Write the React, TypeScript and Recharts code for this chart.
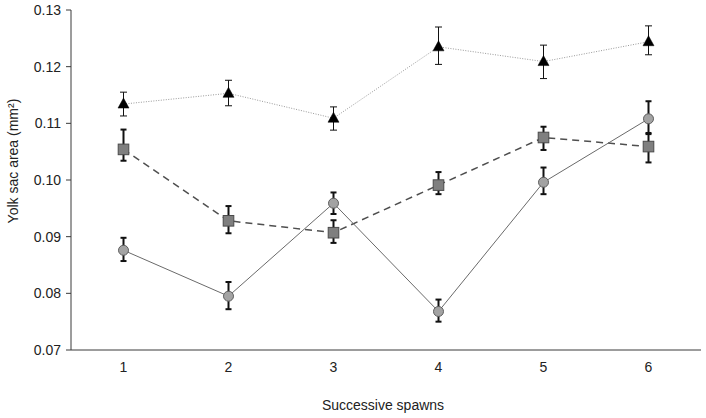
import React from "react";
import { LineChart, Line, XAxis, YAxis, ErrorBar, Label } from "recharts";

const spawns = [1, 2, 3, 4, 5, 6];
const yTicks = [0.07, 0.08, 0.09, 0.1, 0.11, 0.12, 0.13];
const boundaryTicks = [0.5, 1.5, 2.5, 3.5, 4.5, 5.5, 6.5];

const triangleMean = [0.1134, 0.1153, 0.1109, 0.1235, 0.1209, 0.1244];
const triangleLow = [0.0021, 0.0022, 0.0021, 0.0031, 0.003, 0.0023];
const triangleHigh = [0.0021, 0.0023, 0.002, 0.0035, 0.0029, 0.0028];

const squareMean = [0.1054, 0.0928, 0.0907, 0.0991, 0.1075, 0.1059];
const squareLow = [0.002, 0.0022, 0.0018, 0.0016, 0.0022, 0.0028];
const squareHigh = [0.0035, 0.0026, 0.0022, 0.0023, 0.0019, 0.0022];

const circleMean = [0.0876, 0.0795, 0.0959, 0.0768, 0.0996, 0.1108];
const circleLow = [0.0019, 0.0023, 0.0019, 0.0018, 0.0021, 0.0025];
const circleHigh = [0.0022, 0.0025, 0.0019, 0.0021, 0.0026, 0.0031];

const data = spawns.map((s, i) => ({
  x: s,
  tri: triangleMean[i],
  triErr: [triangleLow[i], triangleHigh[i]],
  sq: squareMean[i],
  sqErr: [squareLow[i], squareHigh[i]],
  circ: circleMean[i],
  circErr: [circleLow[i], circleHigh[i]],
}));

const FONT = "'Liberation Sans', Arial, sans-serif";

const TriangleDot = (props: any) => {
  const { cx, cy, index } = props;
  if (cx == null || cy == null) return <g key={`t${index}`} />;
  return (
    <path
      key={`t${index}`}
      d={`M${cx},${cy - 6} L${cx + 5.5},${cy + 4} L${cx - 5.5},${cy + 4} Z`}
      fill="#000"
      stroke="#000"
      strokeWidth={0.5}
    />
  );
};

const SquareDot = (props: any) => {
  const { cx, cy, index } = props;
  if (cx == null || cy == null) return <g key={`s${index}`} />;
  return (
    <rect
      key={`s${index}`}
      x={cx - 5.3}
      y={cy - 5.3}
      width={10.6}
      height={10.6}
      fill="#7f7f7f"
      stroke="#4a4a4a"
      strokeWidth={1}
    />
  );
};

const CircleDot = (props: any) => {
  const { cx, cy, index } = props;
  if (cx == null || cy == null) return <g key={`c${index}`} />;
  return (
    <circle
      key={`c${index}`}
      cx={cx}
      cy={cy}
      r={5}
      fill="#a3a3a3"
      stroke="#5e5e5e"
      strokeWidth={1}
    />
  );
};

export default function App() {
  return (
    <div style={{ position: "absolute", left: 0, top: 0 }}>
      <LineChart
        width={706}
        height={418}
        data={data}
        margin={{ top: 10, right: 5, bottom: 8, left: 10 }}
        style={{ fontFamily: FONT }}
      >
        <XAxis
          xAxisId="b"
          dataKey="x"
          type="number"
          domain={[0.5, 6.5]}
          ticks={spawns}
          axisLine={false}
          tickLine={false}
          tickSize={3}
          tickMargin={4}
          height={55}
          tick={{ fill: "#222", fontSize: 14, fontFamily: FONT }}
        >
          <Label
            content={(p: any) => {
              const vb = p.viewBox || {};
              return (
                <text
                  x={vb.x + vb.width / 2 - 3}
                  y={vb.y + vb.height}
                  textAnchor="middle"
                  fill="#222"
                  fontSize={14}
                  fontFamily={FONT}
                >
                  Successive spawns
                </text>
              );
            }}
          />
        </XAxis>
        <XAxis
          xAxisId="a"
          dataKey="x"
          type="number"
          domain={[0.5, 6.5]}
          ticks={boundaryTicks}
          tick={false}
          tickSize={5}
          height={5}
          axisLine={{ stroke: "#3a3a3a", strokeWidth: 1 }}
          tickLine={{ stroke: "#3a3a3a", strokeWidth: 1 }}
        />
        <YAxis
          type="number"
          domain={[0.07, 0.13]}
          ticks={yTicks}
          allowDataOverflow
          width={61}
          tickSize={5}
          tickMargin={5}
          tickFormatter={(v: number) => v.toFixed(2)}
          tick={{ fill: "#222", fontSize: 14, fontFamily: FONT }}
          axisLine={{ stroke: "#3a3a3a", strokeWidth: 1 }}
          tickLine={{ stroke: "#3a3a3a", strokeWidth: 1 }}
        >
          <Label
            content={(p: any) => {
              const vb = p.viewBox || {};
              const cx = vb.x + 3;
              const cy = vb.y + vb.height / 2 - 19;
              return (
                <text
                  x={cx}
                  y={cy}
                  transform={`rotate(-90, ${cx}, ${cy})`}
                  textAnchor="middle"
                  dominantBaseline="central"
                  fill="#222"
                  fontSize={14}
                  fontFamily={FONT}
                >
                  Yolk sac area (mm²)
                </text>
              );
            }}
          />
        </YAxis>
        <Line
          xAxisId="a"
          dataKey="tri"
          stroke="#9a9a9a"
          strokeWidth={1}
          strokeDasharray="1 1.5"
          dot={TriangleDot}
          activeDot={false}
          isAnimationActive={false}
        >
          <ErrorBar dataKey="triErr" width={3.5} stroke="#111" strokeWidth={1} direction="y" />
        </Line>
        <Line
          xAxisId="a"
          dataKey="sq"
          stroke="#4f4f4f"
          strokeWidth={1.5}
          strokeDasharray="7 5"
          dot={SquareDot}
          activeDot={false}
          isAnimationActive={false}
        >
          <ErrorBar dataKey="sqErr" width={3} stroke="#111" strokeWidth={2} direction="y" />
        </Line>
        <Line
          xAxisId="a"
          dataKey="circ"
          stroke="#6a6a6a"
          strokeWidth={1}
          dot={CircleDot}
          activeDot={false}
          isAnimationActive={false}
        >
          <ErrorBar dataKey="circErr" width={3} stroke="#111" strokeWidth={2} direction="y" />
        </Line>
      </LineChart>
    </div>
  );
}
